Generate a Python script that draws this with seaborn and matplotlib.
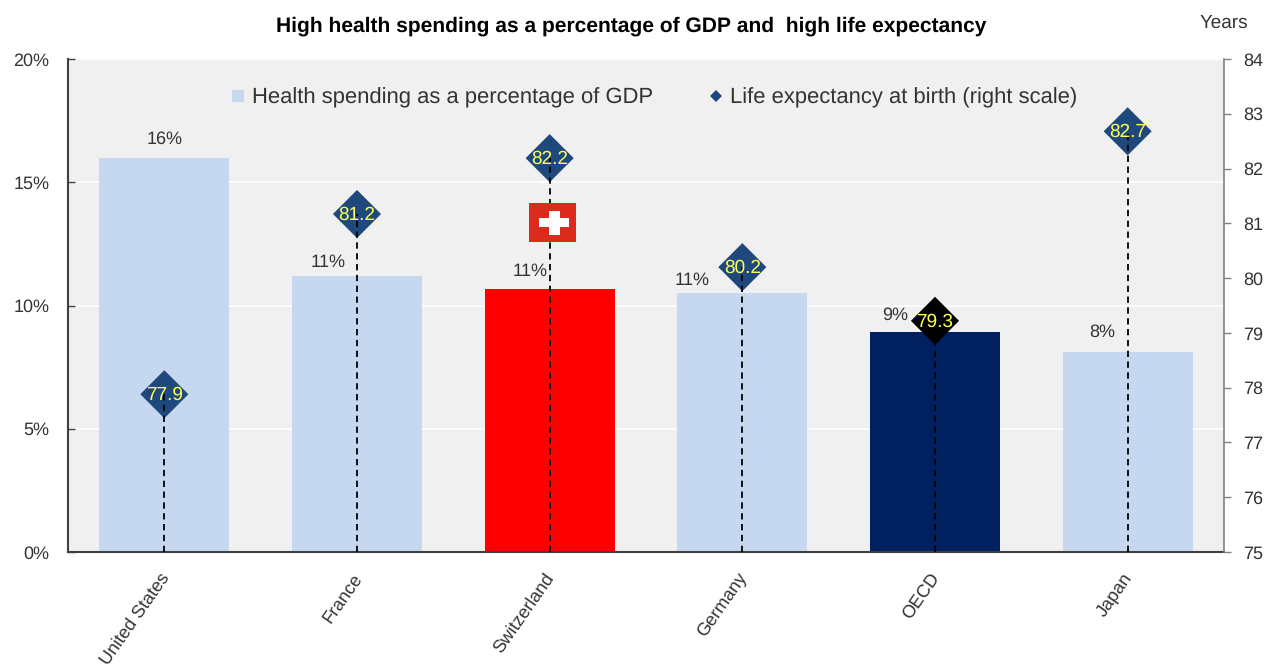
import numpy as np
import pandas as pd
import matplotlib
matplotlib.use('Agg')
import matplotlib.pyplot as plt
from matplotlib.lines import Line2D
from matplotlib.patches import Rectangle
from matplotlib.ticker import PercentFormatter
from matplotlib.transforms import ScaledTranslation
import seaborn as sns

categories = ['United States', 'France', 'Switzerland', 'Germany', 'OECD', 'Japan']
health_spending = [16.0, 11.2, 10.67, 10.5, 8.93, 8.1]
spending_labels = ['16%', '11%', '11%', '11%', '9%', '8%']
life_expectancy = [77.88, 81.17, 82.19, 80.2, 79.22, 82.68]
life_labels = ['77.9', '81.2', '82.2', '80.2', '79.3', '82.7']

bar_colors = ['#c6d8f0', '#c6d8f0', '#ff0000', '#c6d8f0', '#002060', '#c6d8f0']
diamond_colors = ['#1f497d', '#1f497d', '#1f497d', '#1f497d', '#000000', '#1f497d']
# decalage des etiquettes en points (x, y), comme dans l'original
label_offsets = [(0, 13), (-21, 10), (-14, 13), (-36, 9.5), (-29, 12), (-18, 14.5)]

plt.rcParams['font.family'] = ['Liberation Sans', 'DejaVu Sans']
plt.rcParams['text.hinting'] = 'no_hinting'
plt.rcParams['text.hinting_factor'] = 1
TEXT = '#333333'

df = pd.DataFrame({'country': categories, 'spending': health_spending})

fig = plt.figure(figsize=(12.66, 6.66), dpi=100)
ax = fig.add_axes([68 / 1266, 114 / 666, 1156 / 1266, 493 / 666])
ax.set_facecolor('#f0f0f0')

sns.barplot(data=df, x='country', y='spending', hue='country', palette=bar_colors,
            width=0.675, saturation=1, legend=False, ax=ax)
ax.set_xlim(-0.5, 5.5)
ax.set_ylim(0, 20)
ax.set_yticks([0, 5, 10, 15, 20])
ax.yaxis.set_major_formatter(PercentFormatter(decimals=0))
ax.set_xlabel('')
ax.set_ylabel('')
ax.set_axisbelow(True)
ax.grid(axis='y', color='white', linewidth=1.2)
ax.grid(axis='x', visible=False)
ax.set_xticks(range(len(categories)))
ax.set_xticklabels(categories, rotation=55, ha='right', va='top',
                   rotation_mode='anchor', fontsize=13, color=TEXT)
ax.tick_params(axis='x', length=0, pad=13)
ax.tick_params(axis='y', direction='in', length=5, width=1, color='#404040', labelsize=13,
               labelcolor=TEXT, pad=13.5)
ax.spines['top'].set_visible(False)
ax.spines['right'].set_visible(False)
for s in ['left', 'bottom']:
    ax.spines[s].set_color('#404040')
    ax.spines[s].set_linewidth(1.5)

# decale les noms de pays vers la gauche
shift = ScaledTranslation(-4 / 72, 0, fig.dpi_scale_trans)
for lab in ax.get_xticklabels():
    lab.set_transform(lab.get_transform() + shift)

for i, txt in enumerate(spending_labels):
    ax.annotate(txt, (i, health_spending[i]), xytext=label_offsets[i],
                textcoords='offset points', ha='center', va='center',
                fontsize=13, color=TEXT)

# eixo direito: esperanca de vida
ax2 = ax.twinx()
positions = np.arange(len(categories))
sns.scatterplot(x=positions, y=life_expectancy, hue=categories, palette=diamond_colors,
                marker='D', s=600, linewidth=0, legend=False, zorder=2, ax=ax2)
ax2.vlines(positions, 75, life_expectancy, colors='black', linestyles=(0, (3.5, 2.5)),
           linewidth=1.3, zorder=3)
ax2.set_ylim(75, 84)
ax2.set_yticks(range(75, 85))
ax2.set_ylabel('')
ax2.grid(False)
ax2.tick_params(axis='y', length=5, width=1, color='#808080', labelsize=13,
                labelcolor=TEXT, pad=9)
for s in ['top', 'left', 'bottom']:
    ax2.spines[s].set_visible(False)
ax2.spines['right'].set_color('#808080')
ax2.spines['right'].set_linewidth(1.2)

for i, txt in enumerate(life_labels):
    ax2.annotate(txt, (i, life_expectancy[i]), xytext=(0, -0.5), textcoords='offset points',
                 ha='center', va='center', fontsize=14, color='#ffff55', zorder=4)

# bandeira suica
ch = categories.index('Switzerland')
ax2.add_patch(Rectangle((ch - 0.105, 80.66), 0.244, 0.71, color='#dc2a1c', lw=0, zorder=4))
ax2.add_patch(Rectangle((ch - 0.057, 80.93), 0.155, 0.16, color='white', lw=0, zorder=5))
ax2.add_patch(Rectangle((ch - 0.005, 80.78), 0.057, 0.44, color='white', lw=0, zorder=5))

handles = [
    Line2D([], [], linestyle='', marker='s', markersize=8.6, markeredgewidth=0, color='#c6d8f0'),
    Line2D([], [], linestyle='', marker='D', markersize=6, markeredgewidth=0, color='#1f497d'),
]
fig.legend(handles, ['Health spending as a percentage of GDP',
                     'Life expectancy at birth (right scale)'],
           ncol=2, frameon=False, fontsize=15.6, labelcolor=TEXT,
           loc='center', bbox_to_anchor=(653 / 1266, 1 - 98 / 666),
           handlelength=0.8, handletextpad=0.25, columnspacing=2.5)

fig.text(631 / 1266, 1 - 26 / 666,
         'High health spending as a percentage of GDP and  high life expectancy',
         ha='center', va='center', fontsize=15.3, fontweight='bold', color='black')
fig.text(1224 / 1266, 1 - 23 / 666, 'Years', ha='center', va='center',
         fontsize=13.5, color=TEXT)

fig.savefig('out.png', dpi=100)
